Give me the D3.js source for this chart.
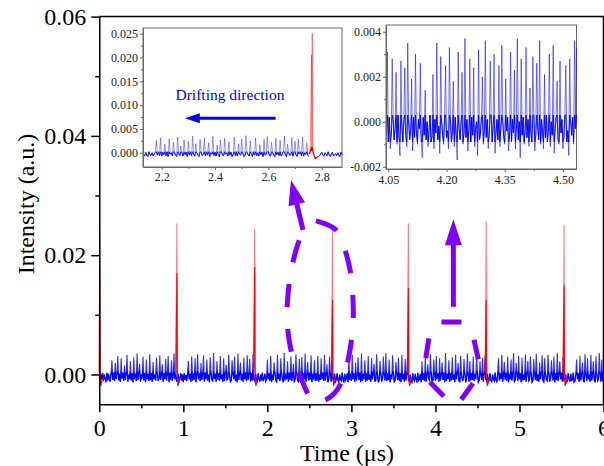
<!DOCTYPE html>
<html><head><meta charset="utf-8">
<script src="https://cdn.jsdelivr.net/npm/d3@7"></script>
<style>body{margin:0;background:#fff}svg{display:block}</style>
</head><body><svg id="c" width="604" height="466"></svg>
<script>
// ---------------- data ----------------
const xTicks=[0,1,2,3,4,5,6];
const xMinor=[0.5,1.5,2.5,3.5,4.5,5.5];
const yTicks=[0,0.02,0.04,0.06];
const yMinor=[0.01,0.03,0.05];
// main blue trace, one sample every 0.01 us, units of 1e-4 a.u.
const mainDt=0.01;
const mainNoise=[
-5,-12,1,-9,2,-11,0,-8,-13,3,-10,1,-7,-12,2,24,-9,3,-11,19,
-8,2,31,-10,1,-12,27,-7,3,-11,15,-9,2,33,-12,0,-8,22,-10,2,
-13,29,-8,1,-11,35,-9,3,18,-12,0,-7,30,-10,2,-13,25,-8,1,-11,
34,-9,2,-12,21,-8,0,-10,28,3,-11,-7,32,-9,1,17,-12,2,-8,26,
-10,1,31,-13,3,-9,24,-11,0,35,-8,2,-12,-5,1,-11,-8,2,-10,0,
-13,2,-9,-1,-11,3,23,-8,1,-12,30,-10,2,-9,27,-13,0,34,-8,2,
-11,19,-9,1,32,-12,3,-8,25,-10,0,-13,29,2,-9,-11,36,-7,1,-12,
22,-9,2,-10,31,-8,0,-12,27,-11,3,16,-9,-7,33,1,-12,-10,24,2,
-8,30,-11,0,-13,35,-9,2,20,-10,1,-12,28,-8,3,-11,32,-9,1,26,
-12,2,-10,34,-8,-11,1,-9,-13,2,-8,-12,0,-10,3,-11,-7,1,-12,-9,
25,-8,2,-11,31,-13,0,-9,20,3,-10,-12,33,-8,1,-11,27,2,-9,-13,
36,-10,1,-8,22,-12,3,-9,30,-11,0,18,-13,-8,34,2,-10,-12,26,1,
-9,29,-11,2,-8,35,-12,0,21,-10,3,-9,32,-13,1,-8,24,-11,2,-10,
31,-12,0,-9,27,-8,3,-11,33,-10,1,17,-13,-9,30,2,-12,22,-8,-11,
1,-12,-9,2,-10,-13,0,-8,-11,3,-9,-12,1,-10,-7,2,-13,26,-9,1,
-11,33,-8,2,-12,20,-10,0,29,-9,3,-13,35,-11,1,-8,24,-12,2,-10,
31,-9,0,-12,27,-8,3,18,-11,-10,34,1,-13,-9,23,2,-12,-8,30,1,
-10,36,-11,2,-9,25,-13,0,-8,32,3,-12,-10,21,1,-9,28,-11,2,-13,
33,-8,1,-12,26,-10,3,35,-9,-12,0,-10,-13,2,-8,-11,1,-9,-12,3,
-10,-8,1,-13,22,-9,2,-11,30,-12,0,17,-8,-10,34,3,-13,-9,25,1,
-11,31,-8,2,-12,27,-10,0,20,-9,3,-13,36,-11,1,-8,24,-12,2,-10,
29,-9,0,-13,33,-8,3,19,-11,-12,31,1,-10,-9,26,2,-13,-8,35,0,
-12,23,-10,2,-9,30,-11,1,-8,34,3,-13,-10,22,0,-9,28,-12,2,32,
-8,-11,1,-13,-9,2,-10,-12,0,-8,-11,3,-9,-13,1,27,-10,2,-8,33,
-12,0,21,-9,3,-11,30,-13,1,-8,25,-10,2,36,-12,-9,19,1,-11,31,
-8,2,-13,28,-10,0,-9,34,-12,3,23,-11,-8,30,1,-13,-10,26,2,-9,
35,-11,0,-12,20,-8,3,32,-10,-13,27,1,-9,-11,33,2,-12,-8,24,0,
-10,30,-13,2,-9,36,-11,1,22,-8,3,-12,29,-10,-9,0,-13,-11,2,-8,
-12,1,-10,-9,3,-13,-11,0,25,-8,2,-12,31,-10,1,20,-9,-13,34,2,
-11,27,-8,0,-12,33,-10,3,22,-9,-13,30,1,-11,-8,36,2,-12,25,-10,
-9];
// red pulses in the main trace
const pulseTimes=[0.004,0.923,1.849,2.775,3.678,4.604,5.531];
const pulsePeaks=[0.0243,0.0253,0.0244,0.0243,0.0253,0.0257,0.0251];
const pulseCores=[0.018,0.017,0.018,0.0125,0.0145,0.0125,0.0149];
const pulseOffsets=[-0.012,0,0.005,0.013,0.028,0.045];
const pulseLevels=[0.0002,null,0.0003,-0.0019,-0.0010,-0.0006];

// inset 1 (2.13 - 2.876 us)
const in1XTicks=[2.2,2.4,2.6,2.8], in1XMinor=[2.3,2.5,2.7];
const in1YTicks=[0,0.005,0.01,0.015,0.02,0.025];
const in1YMinor=[0.0025,0.0075,0.0125,0.0175,0.0225];
const in1Start=2.132, in1Dt=0.004;
const in1Noise=[
-3,-7,1,-5,-8,2,-4,-6,0,-7,-3,1,26,-5,2,-6,31,-7,1,-4,
18,-6,2,-8,29,-3,0,-7,22,1,-5,-8,33,-2,-6,14,0,-7,27,-4,
1,-8,24,-5,2,-6,35,-3,-7,19,0,-5,-8,28,1,-6,-4,31,-7,2,
-5,21,-8,0,-3,34,-6,1,-7,16,-4,-8,27,2,-5,-6,30,-3,0,-7,
23,-5,1,-8,-4,33,-6,2,-7,19,-3,-5,29,0,-8,-6,36,1,-4,-7,
25,-3,-8,2,-5,31,-6,0,-7,17,-4,1,-8,28,-5,-3,34,2,-6,-7,
22,0,-5,-8,30,-4,1,-6,26,-7,-3,2,35,-5,-8,18,0,-6,-4,32,
-7,1,24,-5,-8,29,-3,2,-6,33,-7,0,-4,21,-5,-8,1,-6,-3,-7,
-10,-14,-12,-8,-9,-6,-3,1,-5,-7,0,-4,-6,2,-5,-8,-3,1,-7,-4,
-2,-6,0,-5,-8,1,-4];
const in1PulseT=[2.752,2.757,2.7615,2.763,2.7645,2.766,2.770,2.776,2.786];
const in1PulseV=[-0.0003,0.0002,0.0205,0.0004,0.025,0.0005,-0.0003,-0.0012,-0.0008];
const in1Label="Drifting direction";

// inset 2 (4.044 - 4.535 us)
const in2XTicks=[4.05,4.20,4.35,4.50], in2XMinor=[4.125,4.275,4.425];
const in2YTicks=[-0.002,0,0.002,0.004], in2YMinor=[-0.001,0.001,0.003];
const in2Start=4.045, in2Dt=0.0025;
const in2Noise=[
-4,31,-9,2,-12,-6,28,1,-8,-3,22,-10,3,-7,-15,27,-2,-9,1,24,
-6,-11,35,0,-8,-4,19,-13,2,-7,30,-5,-10,1,-3,26,-9,-16,2,-6,
14,-8,0,-11,-4,3,-9,-7,21,-12,1,-5,35,-8,-2,-14,29,0,-6,-10,
3,25,-7,-4,-12,33,1,-9,-5,18,-11,2,-6,-17,31,-3,-8,0,22,-10,
-5,37,-7,1,-13,-4,28,-9,2,-6,24,-11,-3,0,-15,32,-8,-5,2,20,
-10,-4,36,-7,1,-12,-6,27,3,-9,-2,30,-14,-5,1,-8,25,-11,-3,34,
0,-7,-10,19,-4,2,-13,-6,31,-9,1,-5,23,-12,-3,37,-8,0,-16,28,
-6,2,-10,-4,33,-7,1,-11,15,-5,-9,29,3,-13,-6,26,-2,-8,36,-10,
1,-5,-12,21,-7,3,-9,-4,30,-11,0,-6,34,-14,-3,2,18,-8,-10,27,
-5,1,-12,-7,3,25,-9,-4,-15,28,0,-6,2,-10,36,-3,33];

// purple annotations (data coordinates of the main plot)
const loopPts=[[2.579,0.02574],[2.817,0.02423],[2.924,0.02087],[2.995,0.01668],[3.019,0.01249],[3.019,0.0083],[2.983,0.00411],[2.924,0.00042],[2.829,-0.0026],[2.686,-0.00428],[2.543,-0.00444],[2.424,-0.00143],[2.329,0.00159],[2.269,0.00495],[2.234,0.00914],[2.245,0.01333],[2.281,0.01719],[2.341,0.02087],[2.424,0.02423]];
const arrow1=[[2.424,0.02423],[2.281,0.0326]];
const shieldPts=[[3.953,0.0088],[4.412,0.0088],[4.543,0.00042],[4.234,-0.00562],[3.853,-0.00008],[3.953,0.0088]];
const arrow2=[[4.214,0.01137],[4.213,0.02602]];
const driftArrow=[[2.627,0.00725],[2.287,0.00725]];
const driftLabelPos=[2.456,0.0111];

// ---------------- drawing ----------------
const FONT='"Liberation Serif","Times New Roman",serif';
const svg=d3.select("#c");
const x=d3.scaleLinear().domain([0,6]).range([99.3,603.5]);
const y=d3.scaleLinear().domain([-0.005,0.06]).range([404.3,16.6]);
const fmtL=d3.formatLocale({decimal:".",thousands:",",grouping:[3],currency:["",""],minus:"-"});

// trace helper: pale full trace + solid band (same data, clamped to the band)
function trace(data,t0,dt,sx,sy,lo,hi,paleOp,w,defined){
  const mk=(clamp)=>d3.line().defined(defined||(()=>true))
      .x((d,i)=>sx(t0+i*dt)).y(d=>sy(clamp?Math.max(lo,Math.min(hi,d*1e-4)):d*1e-4));
  svg.append("path").datum(data).attr("d",mk(false)).attr("fill","none")
    .attr("stroke","#0000ff").attr("stroke-opacity",paleOp).attr("stroke-width",w);
  svg.append("path").datum(data).attr("d",mk(true)).attr("fill","none")
    .attr("stroke","#0000ff").attr("stroke-width",w);
}
trace(mainNoise,0,mainDt,x,y,-0.0013,0.0005,0.82,1.1);

// red pulses
function pulseSeries(k,clampTo){
  return pulseOffsets.map((o,j)=>{
    let v=pulseLevels[j]===null?pulsePeaks[k]:pulseLevels[j];
    if(clampTo!==undefined) v=Math.min(v,clampTo);
    return [pulseTimes[k]+o,v];});
}
const pl=d3.line().x(d=>x(Math.max(0,d[0]))).y(d=>y(d[1]));
pulseTimes.forEach((t,k)=>{
  svg.append("path").attr("d",pl(pulseSeries(k))).attr("fill","none")
    .attr("stroke","#ff0000").attr("stroke-opacity",0.5).attr("stroke-width",1.1);
  svg.append("path").attr("d",pl(pulseSeries(k,pulseCores[k]))).attr("fill","none")
    .attr("stroke","#ff0000").attr("stroke-width",1.1);
});

// axes helper
function styleAxis(g,color,w,fs,tcol){
  g.attr("font-family",FONT).attr("font-size",fs);
  g.selectAll("path.domain").attr("stroke",color).attr("stroke-width",w);
  g.selectAll(".tick line").attr("stroke",color).attr("stroke-width",w);
  g.selectAll(".tick text").attr("fill",tcol);
}
function minorAxis(gen,vals,size,tr,color,w){
  const g=svg.append("g").attr("transform",tr)
    .call(gen.tickValues(vals).tickSize(size).tickFormat("").tickSizeOuter(0));
  g.select("path.domain").remove();
  g.selectAll(".tick line").attr("stroke",color).attr("stroke-width",w);
}

// ---- inset 1
const x1=d3.scaleLinear().domain([2.13,2.876]).range([143,342]);
const y1=d3.scaleLinear().domain([-0.003,0.0262]).range([167,28]);
svg.append("rect").attr("x",143).attr("y",28).attr("width",199).attr("height",139)
  .attr("fill","#fff").attr("stroke","#666").attr("stroke-width",1);
const pT0=in1PulseT[0], pT1=in1PulseT[in1PulseT.length-1];
trace(in1Noise,in1Start,in1Dt,x1,y1,-0.0008,0.0002,0.45,0.9,
  (d,i)=>{const t=in1Start+i*in1Dt;return t<pT0+0.002||t>pT1-0.002;});
const in1P=in1PulseT.map((t,i)=>[t,in1PulseV[i]]);
const l1=d3.line().x(d=>x1(d[0])).y(d=>y1(d[1]));
svg.append("path").attr("d",l1(in1P)).attr("fill","none").attr("stroke","#ff0000")
  .attr("stroke-opacity",0.45).attr("stroke-width",1);
svg.append("path").attr("d",l1(in1P.map(d=>[d[0],Math.min(d[1],0.0012)]))).attr("fill","none")
  .attr("stroke","#ff0000").attr("stroke-width",1.3);
let g=svg.append("g").attr("transform","translate(0,167)")
  .call(d3.axisBottom(x1).tickValues(in1XTicks).tickSize(3).tickPadding(2).tickSizeOuter(0).tickFormat(d3.format(".1f")));
styleAxis(g,"#666",1,12,"#222");
minorAxis(d3.axisBottom(x1),in1XMinor,2,"translate(0,167)","#666",1);
g=svg.append("g").attr("transform","translate(143,0)")
  .call(d3.axisLeft(y1).tickValues(in1YTicks).tickSize(3).tickPadding(2).tickSizeOuter(0).tickFormat(fmtL.format(".3f")));
styleAxis(g,"#666",1,12,"#222");
minorAxis(d3.axisLeft(y1),in1YMinor,2,"translate(143,0)","#666",1);
svg.append("text").attr("x",x1(driftLabelPos[0])).attr("y",y1(driftLabelPos[1]))
  .attr("text-anchor","middle").attr("font-family",FONT).attr("font-size",15.5)
  .attr("fill","#0000ff").text(in1Label);

// ---- inset 2
const x2=d3.scaleLinear().domain([4.044,4.535]).range([386,576.5]);
const y2=d3.scaleLinear().domain([-0.0021,0.0043]).range([169,25]);
svg.append("rect").attr("x",386).attr("y",25).attr("width",190.5).attr("height",144)
  .attr("fill","#fff").attr("stroke","#666").attr("stroke-width",1);
trace(in2Noise,in2Start,in2Dt,x2,y2,-0.0009,0.0003,0.6,0.9);
g=svg.append("g").attr("transform","translate(0,169)")
  .call(d3.axisBottom(x2).tickValues(in2XTicks).tickSize(3).tickPadding(3).tickSizeOuter(0).tickFormat(d3.format(".2f")));
styleAxis(g,"#666",1,12,"#222");
minorAxis(d3.axisBottom(x2),in2XMinor,2,"translate(0,169)","#666",1);
g=svg.append("g").attr("transform","translate(386,0)")
  .call(d3.axisLeft(y2).tickValues(in2YTicks).tickSize(3).tickPadding(2).tickSizeOuter(0).tickFormat(fmtL.format(".3f")));
styleAxis(g,"#666",1,12,"#222");
minorAxis(d3.axisLeft(y2),in2YMinor,2,"translate(386,0)","#666",1);

// ---- arrows & annotations
function arrow(sx,sy,p0,p1,color,w,hl,hw){
  const X0=sx(p0[0]),Y0=sy(p0[1]),X1=sx(p1[0]),Y1=sy(p1[1]);
  const dx=X1-X0,dy=Y1-Y0,L=Math.hypot(dx,dy),ux=dx/L,uy=dy/L;
  const bx=X1-ux*hl,by=Y1-uy*hl;
  svg.append("line").attr("x1",X0).attr("y1",Y0).attr("x2",bx+ux*2).attr("y2",by+uy*2)
    .attr("stroke",color).attr("stroke-width",w);
  svg.append("path").attr("d",`M${X1},${Y1}L${bx-uy*hw},${by+ux*hw}L${bx+uy*hw},${by-ux*hw}Z`)
    .attr("fill",color);
}
arrow(x1,y1,driftArrow[0],driftArrow[1],"#0000ff",3,15,5);

const PURPLE="#7f00ff";
svg.append("path").attr("d",d3.line().curve(d3.curveCatmullRom).x(d=>x(d[0])).y(d=>y(d[1]))(loopPts))
  .attr("fill","none").attr("stroke",PURPLE).attr("stroke-width",5).attr("stroke-dasharray","23,22");
arrow(x,y,arrow1[0],arrow1[1],PURPLE,5,25,8.5);
svg.append("path").attr("d",d3.line().x(d=>x(d[0])).y(d=>y(d[1]))(shieldPts))
  .attr("fill","none").attr("stroke",PURPLE).attr("stroke-width",5)
  .attr("stroke-dasharray","20,26.8").attr("stroke-dashoffset",36.8);
arrow(x,y,arrow2[0],arrow2[1],PURPLE,5,26,8.5);

// ---- main axes
g=svg.append("g").attr("transform",`translate(0,${y(-0.005)})`)
  .call(d3.axisBottom(x).tickValues(xTicks).tickSize(8).tickPadding(6.5).tickSizeOuter(0).tickFormat(d3.format("d")));
styleAxis(g,"#000",1.5,24,"#000");
minorAxis(d3.axisBottom(x),xMinor,4,`translate(0,${y(-0.005)})`,"#000",1.5);
g=svg.append("g").attr("transform",`translate(${x(0)},0)`)
  .call(d3.axisLeft(y).tickValues(yTicks).tickSize(8).tickPadding(5).tickSizeOuter(0).tickFormat(d3.format(".2f")));
styleAxis(g,"#000",1.5,24,"#000");
minorAxis(d3.axisLeft(y),yMinor,4,`translate(${x(0)},0)`,"#000",1.5);
// frame top/right
svg.append("path").attr("d",`M${x(0)},${y(0.06)}H${x(6)}V${y(-0.005)}`)
  .attr("fill","none").attr("stroke","#000").attr("stroke-width",1.5);

// titles
svg.append("text").attr("transform","translate(33.5,204) rotate(-90)")
  .attr("text-anchor","middle").attr("font-family",FONT).attr("font-size",24).text("Intensity (a.u.)");
svg.append("text").attr("x",347).attr("y",461)
  .attr("text-anchor","middle").attr("font-family",FONT).attr("font-size",24).text("Time (μs)");
</script></body></html>
